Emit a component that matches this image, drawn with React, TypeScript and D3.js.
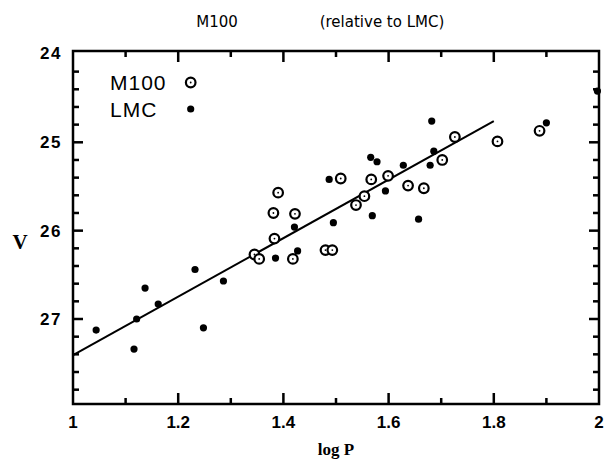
import React from 'react';
import { scaleLinear, range, line as d3line } from 'd3';

// M100 cepheids (open circles) and LMC cepheids shifted (filled dots)
const m100LogP = [1.345, 1.354, 1.383, 1.381, 1.390, 1.418, 1.422, 1.480, 1.493, 1.509, 1.538, 1.554, 1.567, 1.599, 1.637, 1.667, 1.702, 1.726, 1.807, 1.887];
const m100V = [26.27, 26.32, 26.09, 25.80, 25.57, 26.32, 25.81, 26.22, 26.22, 25.41, 25.71, 25.61, 25.42, 25.38, 25.49, 25.52, 25.20, 24.94, 24.99, 24.87];

const lmcLogP = [1.044, 1.116, 1.121, 1.137, 1.162, 1.232, 1.248, 1.286, 1.385, 1.421, 1.427, 1.487, 1.495, 1.566, 1.578, 1.569, 1.594, 1.628, 1.657, 1.679, 1.682, 1.686, 1.900, 1.997];
const lmcV = [27.125, 27.34, 27.0, 26.65, 26.83, 26.44, 27.10, 26.57, 26.31, 25.96, 26.23, 25.42, 25.91, 25.17, 25.22, 25.83, 25.55, 25.26, 25.87, 25.26, 24.76, 25.10, 24.78, 24.42];

const fitLogP = [1.0, 1.8];
const fitV = [27.41, 24.76];

const xMajor = [1, 1.2, 1.4, 1.6, 1.8, 2];
const xLabels = ['1', '1.2', '1.4', '1.6', '1.8', '2'];
const yMajor = [24, 25, 26, 27];
const yLabels = ['24', '25', '26', '27'];

const width = 608;
const height = 460;
const left = 73, right = 599, top = 51, bottom = 404;

const x = scaleLinear().domain([1, 2]).range([left, right]);
const y = scaleLinear().domain([25, 27]).range([142.3, 319]);

const xMinor = range(1.1, 2, 0.2);
const yMinor = range(24.2, 28, 0.2).filter(v => Math.abs(v - Math.round(v)) > 0.05);

export default function App() {
  const fitPath = d3line<number>()
    .x((_, i) => x(fitLogP[i]))
    .y(d => y(d))(fitV);

  const sans = '"Liberation Sans", Arial, sans-serif';
  const titleFont = '"DejaVu Sans", sans-serif';
  const serif = '"Liberation Serif", "DejaVu Serif", serif';
  const xm = xMajor.slice(1, -1);
  const ym = yMajor.slice(1);

  return (
    <svg width={width} height={height} style={{ position: 'absolute', left: 0, top: 0, background: '#fff' }}>
      <rect x={0} y={0} width={width} height={height} fill="#fff" />
      {/* title */}
      <text x={217} y={27} fontFamily={titleFont} fontSize={15} textAnchor="middle">M100</text>
      <text x={382} y={27} fontFamily={titleFont} fontSize={15} textAnchor="middle">(relative to LMC)</text>

      {/* fit line */}
      <path d={fitPath || ''} fill="none" stroke="#000" strokeWidth={2} />

      {/* LMC */}
      {lmcLogP.map((p, i) => (
        <circle key={'l' + i} cx={x(p)} cy={y(lmcV[i])} r={3.6} fill="#000" />
      ))}
      {/* M100 */}
      {m100LogP.map((p, i) => (
        <g key={'m' + i}>
          <circle cx={x(p)} cy={y(m100V[i])} r={4.8} fill="#fff" stroke="#000" strokeWidth={2.2} />
          <circle cx={x(p)} cy={y(m100V[i])} r={0.9} fill="#000" />
        </g>
      ))}

      {/* frame */}
      <rect x={left} y={top} width={right - left} height={bottom - top} fill="none" stroke="#000" strokeWidth={2.5} />
      {/* inward ticks as small rects */}
      <g fill="#000">
        {xm.map(v => (
          <g key={'xM' + v}>
            <rect x={x(v) - 1.25} y={bottom - 11} width={2.5} height={11} />
            <rect x={x(v) - 1.25} y={top} width={2.5} height={11} />
          </g>
        ))}
        {xMinor.map(v => (
          <g key={'xm' + v}>
            <rect x={x(v) - 1.25} y={bottom - 6} width={2.5} height={6} />
            <rect x={x(v) - 1.25} y={top} width={2.5} height={6} />
          </g>
        ))}
        {ym.map(v => (
          <g key={'yM' + v}>
            <rect x={left} y={y(v) - 1.25} width={10} height={2.5} />
            <rect x={right - 10} y={y(v) - 1.25} width={10} height={2.5} />
          </g>
        ))}
        {yMinor.map(v => (
          <g key={'ym' + v}>
            <rect x={left} y={y(v) - 1.25} width={6} height={2.5} />
            <rect x={right - 6} y={y(v) - 1.25} width={6} height={2.5} />
          </g>
        ))}
      </g>

      {/* legend */}
      <text x={110} y={90} fontFamily={sans} fontSize={21} letterSpacing={1}>M100</text>
      <circle cx={190.7} cy={82.5} r={4.8} fill="#fff" stroke="#000" strokeWidth={2.2} />
      <circle cx={190.7} cy={82.5} r={0.9} fill="#000" />
      <text x={110} y={117} fontFamily={sans} fontSize={21} letterSpacing={1}>LMC</text>
      <circle cx={190.7} cy={109} r={3.6} fill="#000" />

      {/* axis labels */}
      {xMajor.map((v, i) => (
        <text key={'xl' + v} x={x(v)} y={428} fontFamily={sans} fontSize={17} fontWeight="bold" textAnchor="middle">{xLabels[i]}</text>
      ))}
      {yMajor.map((v, i) => (
        <text key={'yl' + v} x={62} y={(i === 0 ? top + 2 : y(v)) + 6} fontFamily={sans} fontSize={17} fontWeight="bold" letterSpacing={1.5} textAnchor="end">{yLabels[i]}</text>
      ))}
      <text x={336} y={455} fontFamily={serif} fontSize={17} fontWeight="bold" textAnchor="middle">log P</text>
      <text x={20} y={249} fontFamily={serif} fontSize={21} fontWeight="bold" textAnchor="middle">V</text>
    </svg>
  );
}
